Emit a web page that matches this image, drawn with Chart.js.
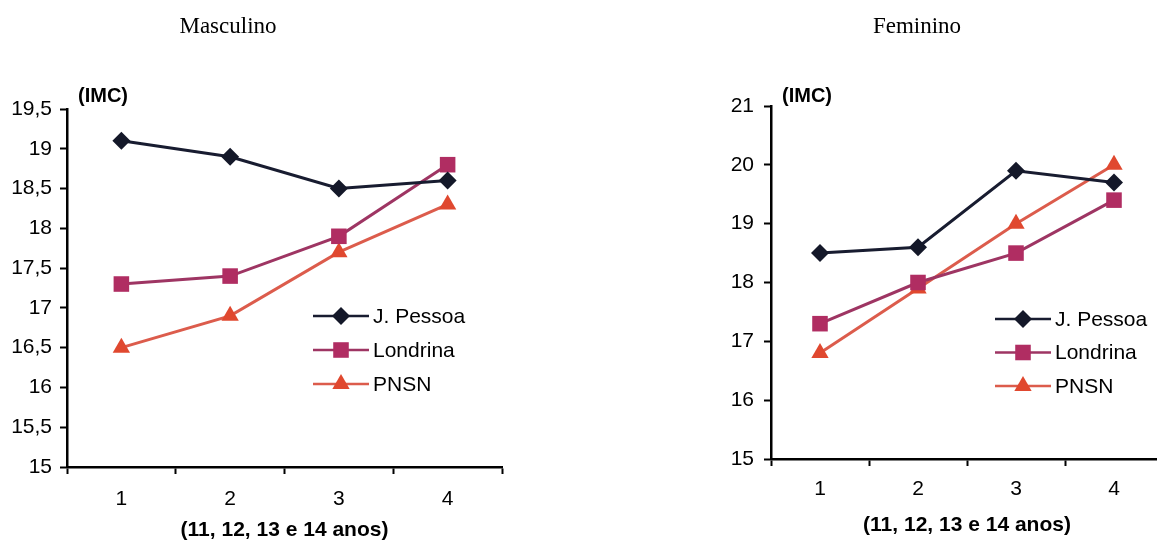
<!DOCTYPE html>
<html>
<head>
<meta charset="utf-8">
<script src="https://cdn.jsdelivr.net/npm/chart.js"></script>
<style>
  html, body { margin: 0; padding: 0; background: #fff; overflow: hidden; }
  #wrap { position: relative; width: 1157px; height: 544px; overflow: hidden; }
  canvas { position: absolute; top: 0; }
</style>
</head>
<body>
<div id="wrap">
  <canvas id="masc" width="578" height="544" style="left:0"></canvas>
  <canvas id="fem" width="600" height="544" style="left:578px"></canvas>
</div>
<script>
const ages = ["1", "2", "3", "4"];
const seriesNames = ["J. Pessoa", "Londrina", "PNSN"];

// Masculino
const mascPessoa = [19.1, 18.9, 18.5, 18.6];
const mascLondrina = [17.3, 17.4, 17.9, 18.8];
const mascPnsn = [16.5, 16.9, 17.7, 18.3];

// Feminino
const femPessoa = [18.5, 18.6, 19.9, 19.7];
const femLondrina = [17.3, 18.0, 18.5, 19.4];
const femPnsn = [16.8, 17.9, 19.0, 20.0];

const styles = [
  { line: "#181c30", fill: "#141829", shape: "rectRot", r: 9 },
  { line: "#9e3563", fill: "#b02d62", shape: "rect", r: 11 },
  { line: "#dc5c4c", fill: "#e0482f", shape: "triangle", r: 10 }
];

const sans = "'Liberation Sans', Arial, sans-serif";

function drawMarker(ctx, shape, x, y, r, color) {
  ctx.save();
  ctx.fillStyle = color;
  ctx.beginPath();
  if (shape === "rectRot") {
    ctx.moveTo(x, y - r); ctx.lineTo(x + r, y); ctx.lineTo(x, y + r); ctx.lineTo(x - r, y);
  } else if (shape === "rect") {
    const s = r * Math.SQRT1_2;
    ctx.rect(x - s, y - s, 2 * s, 2 * s);
  } else {
    ctx.moveTo(x, y - r);
    ctx.lineTo(x + r * 0.866, y + r * 0.5);
    ctx.lineTo(x - r * 0.866, y + r * 0.5);
  }
  ctx.closePath();
  ctx.fill();
  ctx.restore();
}

// titles, (IMC) label and the legend inside the plot
const decor = {
  id: "decor",
  afterDraw(chart, args, opts) {
    const ctx = chart.ctx;
    ctx.save();
    ctx.fillStyle = "#000";
    ctx.textBaseline = "middle";
    ctx.textAlign = "center";
    ctx.font = "23px 'Liberation Serif', 'Times New Roman', serif";
    ctx.fillText(opts.title, opts.titleX, 27);
    ctx.textAlign = "left";
    ctx.font = "bold 20px " + sans;
    ctx.fillText("(IMC)", opts.imcX, 96);

    ctx.font = "21px " + sans;
    chart.data.datasets.forEach((ds, i) => {
      const st = styles[i];
      const y = opts.legY + i * opts.legGap;
      ctx.strokeStyle = st.line;
      ctx.lineWidth = 2.5;
      ctx.beginPath();
      ctx.moveTo(opts.legX, y);
      ctx.lineTo(opts.legX + 56, y);
      ctx.stroke();
      drawMarker(ctx, st.shape, opts.legX + 28, y, st.r, st.fill);
      ctx.fillStyle = "#000";
      ctx.fillText(ds.label, opts.legX + 60, y + 1);
    });
    ctx.restore();
  }
};

function makeDatasets(values) {
  return values.map((v, i) => ({
    label: seriesNames[i],
    data: v,
    borderColor: styles[i].line,
    backgroundColor: styles[i].fill,
    borderWidth: 3,
    pointStyle: styles[i].shape,
    pointRadius: styles[i].r,
    pointHoverRadius: styles[i].r,
    pointBorderWidth: 0,
    pointBackgroundColor: styles[i].fill,
    tension: 0
  }));
}

function makeChart(id, values, cfg) {
  return new Chart(document.getElementById(id), {
    type: "line",
    data: { labels: ages, datasets: makeDatasets(values) },
    options: {
      responsive: false,
      animation: false,
      layout: { padding: { left: 0, right: cfg.padRight, top: cfg.top, bottom: 0 } },
      plugins: {
        legend: { display: false },
        tooltip: { enabled: false },
        decor: cfg.decor
      },
      scales: {
        x: {
          offset: true,
          afterFit: s => { s.height = cfg.xHeight; },
          grid: { offset: true, drawOnChartArea: false, tickLength: 7, tickColor: "#000", tickWidth: 2 },
          border: { color: "#000", width: 2.5 },
          ticks: { color: "#000", padding: cfg.xPad, font: { family: sans, size: 21 } },
          title: {
            display: true,
            text: "(11, 12, 13 e 14 anos)",
            color: "#000",
            padding: { top: 0, bottom: cfg.titlePad },
            font: { family: sans, size: 21, weight: "bold" }
          }
        },
        y: {
          min: cfg.min,
          max: cfg.max,
          afterFit: s => { s.width = cfg.yWidth; },
          grid: { drawOnChartArea: false, tickLength: 7, tickColor: "#000", tickWidth: 2 },
          border: { color: "#000", width: 2.5 },
          ticks: {
            stepSize: cfg.step,
            color: "#000",
            padding: cfg.yPad,
            font: { family: sans, size: 21 },
            callback: v => String(v).replace(".", ",")
          }
        }
      }
    },
    plugins: [decor]
  });
}

makeChart("masc", [mascPessoa, mascLondrina, mascPnsn], {
  min: 15, max: 19.5, step: 0.5,
  top: 109, padRight: 76, yWidth: 67, xHeight: 77, xPad: 13, titlePad: 1, yPad: 8,
  decor: { title: "Masculino", titleX: 228, imcX: 78, legX: 313, legY: 316, legGap: 34 }
});

makeChart("fem", [femPessoa, femLondrina, femPnsn], {
  min: 15, max: 21, step: 1,
  top: 106, padRight: 15, yWidth: 193, xHeight: 85, xPad: 11, titlePad: 6, yPad: 10,
  decor: { title: "Feminino", titleX: 339, imcX: 204, legX: 417, legY: 319, legGap: 33.5 }
});
</script>
</body>
</html>
